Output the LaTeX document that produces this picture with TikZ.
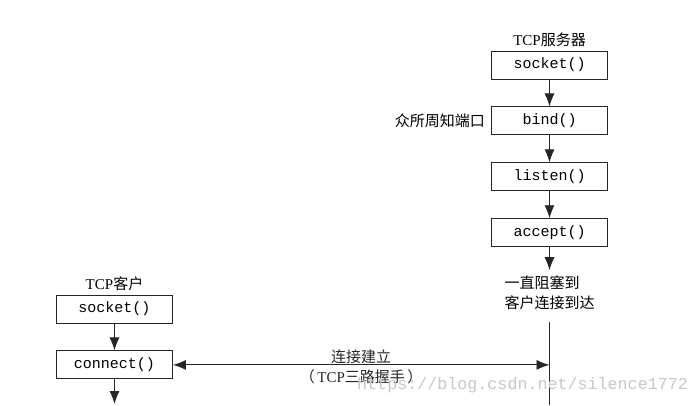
\documentclass[tikz,border=0pt]{standalone}
\usepackage{fontspec}
\setmainfont{Liberation Serif}
\setmonofont{Liberation Mono}
\newfontfamily\cjk{Noto Sans CJK SC}
\usetikzlibrary{positioning,arrows.meta}
\begin{document}
\begin{tikzpicture}[x=1pt, y=-1pt,
        every node/.style={font=\fontsize{15}{20}\selectfont, inner sep=0pt},
        proc/.style={draw=black!85, line width=0.9pt, minimum width=116pt, minimum height=28pt, font=\ttfamily\fontsize{15}{17}\selectfont},
        flecha/.style={-{Latex[length=13pt,width=10pt]}, line width=0.9pt, black!85},
        doble/.style={{Latex[length=13pt,width=10pt]}-{Latex[length=13pt,width=10pt]}, line width=0.9pt, black!85},
        marca/.style={font=\ttfamily\fontsize{16.7}{18}\selectfont, text=black!22}
    ]
    \useasboundingbox (0,0) rectangle (700,405);
    % servidor
    \node (s1) [proc] at (549.5,65) {socket()};
    \node (s2) [proc, below=27pt of s1] {bind()};
    \node (s3) [proc, below=27pt of s2] {listen()};
    \node (s4) [proc, below=27pt of s3] {accept()};
    \node (srv) [above=4pt of s1] {TCP{\cjk 服务器}};
    \node (port) [left=6pt of s2] {\cjk 众所周知端口};
    \node (bloq) [below=23pt of s4, align=left, inner sep=5pt] {\cjk 一直阻塞到\\\cjk 客户连接到达};
    \coordinate (fin) at (549.5,405);

    % cliente
    \node (c1) [proc] at (114.5,309) {socket()};
    \node (c2) [proc, below=27pt of c1] {connect()};
    \node (cli) [above=4pt of c1] {TCP{\cjk 客户}};
    \coordinate (cfin) at (114.5,404);

    \draw [flecha] (s1) -- (s2);
    \draw [flecha] (s2) -- (s3);
    \draw [flecha] (s3) -- (s4);
    \draw [flecha] (s4) -- (bloq);
    \draw [line width=0.9pt, black!85] ([yshift=-7pt]bloq.south) -- (fin);
    \draw [flecha] (c1) -- (c2);
    \draw [flecha] (c2) -- (cfin);
    \draw [doble] (c2.east) -- (c2.east -| fin)
        node (conex) [midway, above=1pt] {\cjk 连接建立}
        node (hand) [midway, below=4pt] {{\cjk （}\,TCP{\cjk 三路握手}\,{\cjk ）}};

    \node (wm) [marca, anchor=west] at (357,385) {https://blog.csdn.net/silence1772};
\end{tikzpicture}
\end{document}
